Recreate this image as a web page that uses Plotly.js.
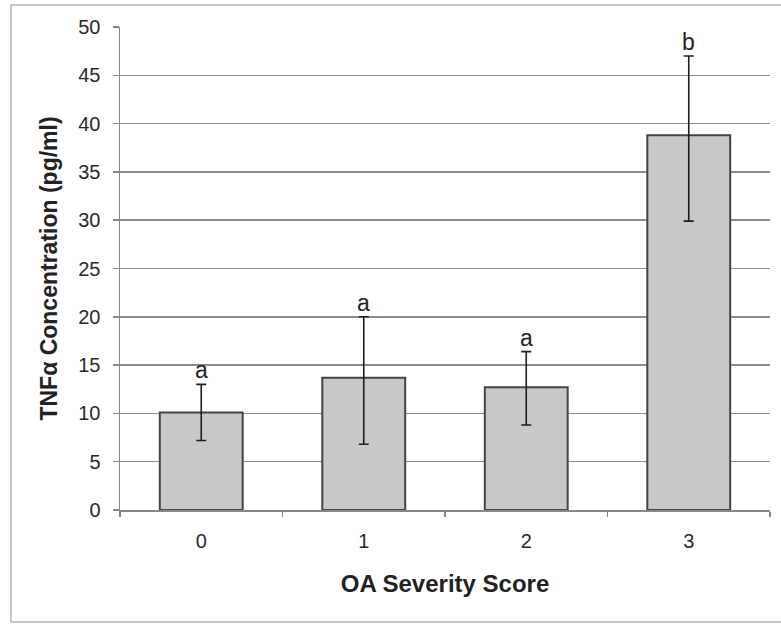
<!DOCTYPE html>
<html><head><meta charset="utf-8">
<script src="https://cdn.plot.ly/plotly-3.0.1.min.js"></script>
<style>html,body{margin:0;padding:0;background:#fff;}#chart{width:781px;height:624px;}</style>
</head><body><div id="chart"></div>
<script>
const categories = ['0', '1', '2', '3'];
const means = [10.1, 13.7, 12.7, 38.8];
const errUpper = [13.0, 20.0, 16.4, 47.0];
const errLower = [7.2, 6.8, 8.8, 29.9];
const letters = ['a', 'a', 'a', 'b'];
const yTicks = [0, 5, 10, 15, 20, 25, 30, 35, 40, 45, 50];

const plus = means.map((m, i) => errUpper[i] - m);
const minus = means.map((m, i) => m - errLower[i]);

const trace = {
  type: 'bar', x: categories, y: means,
  marker: {color: '#c8c8c8', line: {color: '#444444', width: 2}},
  width: 0.51,
  error_y: {type: 'data', symmetric: false, array: plus, arrayminus: minus,
            color: '#1e1e1e', thickness: 1.6, width: 5},
  hoverinfo: 'none'
};

const annotations = categories.map((c, i) => ({
  x: c, y: errUpper[i], xref: 'x', yref: 'y', text: letters[i], showarrow: false,
  yanchor: 'bottom', yshift: -1,
  font: {family: 'Liberation Sans, Arial, sans-serif', size: 23, color: '#222'}
}));

const layout = {
  width: 781, height: 624,
  margin: {l: 120, r: 11, t: 27, b: 114},
  paper_bgcolor: '#fff', plot_bgcolor: '#fff',
  showlegend: false,
  font: {family: 'Liberation Sans, Arial, sans-serif', color: '#222'},
  xaxis: {
    type: 'category', tickson: 'boundaries', ticks: 'outside', ticklen: 5,
    tickcolor: '#888', tickwidth: 1.5, showline: true, linecolor: '#888', linewidth: 1.5,
    showgrid: false, tickfont: {size: 20, color: '#2a2a2a'}, ticklabelstandoff: 12,
    title: {text: '<b>OA Severity Score</b>', font: {size: 24, color: '#222'}, standoff: 24}
  },
  yaxis: {
    range: [0, 50], tickvals: yTicks, ticks: 'outside', ticklen: 6,
    tickcolor: '#888', tickwidth: 1.5, showline: true, linecolor: '#888', linewidth: 1.5,
    showgrid: true, gridcolor: '#8c8c8c', gridwidth: 1.5, zeroline: false,
    tickfont: {size: 20, color: '#2a2a2a'}, ticklabelstandoff: 8,
    title: {text: '<b>TNFα Concentration (pg/ml)</b>', font: {size: 23, color: '#222'}, standoff: 14}
  },
  annotations: annotations,
  shapes: [{type: 'rect', xref: 'paper', yref: 'paper', x0: -0.1677, x1: 1.05, y0: -0.232, y1: 1.0455,
            line: {color: '#b4b4b4', width: 1.5}, layer: 'below'}]
};

Plotly.newPlot('chart', [trace], layout, {displayModeBar: false, staticPlot: true});
</script></body></html>
